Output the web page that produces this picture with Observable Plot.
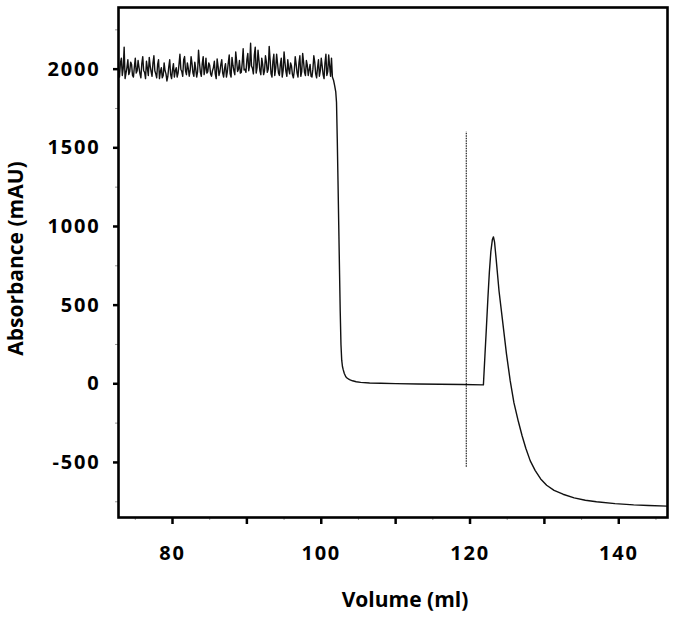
<!DOCTYPE html>
<html><head><meta charset="utf-8">
<script src="https://cdn.jsdelivr.net/npm/d3@7"></script>
<script src="https://cdn.jsdelivr.net/npm/@observablehq/plot@0.6"></script>
<style>
body{margin:0;background:#fff}
#chart svg{display:block}
#chart svg [aria-label$="tick label"] text, #chart svg g[aria-label$="tick label"]{font-size:20px !important;font-weight:bold !important;letter-spacing:1.8px;}
</style>
</head><body><div id="chart"></div>
<script>
// Volume (ml) of each sampled point
const volume = [72.75,72.875,
  73,73.125,73.25,73.375,73.5,73.625,73.75,73.875,
  74,74.125,74.25,74.375,74.5,74.625,74.75,74.875,
  75,75.125,75.25,75.375,75.5,75.625,75.75,75.875,
  76,76.125,76.25,76.375,76.5,76.625,76.75,76.875,
  77,77.125,77.25,77.375,77.5,77.625,77.75,77.875,
  78,78.125,78.25,78.375,78.5,78.625,78.75,78.875,
  79,79.125,79.25,79.375,79.5,79.625,79.75,79.875,
  80,80.125,80.25,80.375,80.5,80.625,80.75,80.875,
  81,81.125,81.25,81.375,81.5,81.625,81.75,81.875,
  82,82.125,82.25,82.375,82.5,82.625,82.75,82.875,
  83,83.125,83.25,83.375,83.5,83.625,83.75,83.875,
  84,84.125,84.25,84.375,84.5,84.625,84.75,84.875,
  85,85.125,85.25,85.375,85.5,85.625,85.75,85.875,
  86,86.125,86.25,86.375,86.5,86.625,86.75,86.875,
  87,87.125,87.25,87.375,87.5,87.625,87.75,87.875,
  88,88.125,88.25,88.375,88.5,88.625,88.75,88.875,
  89,89.125,89.25,89.375,89.5,89.625,89.75,89.875,
  90,90.125,90.25,90.375,90.5,90.625,90.75,90.875,
  91,91.125,91.25,91.375,91.5,91.625,91.75,91.875,
  92,92.125,92.25,92.375,92.5,92.625,92.75,92.875,
  93,93.125,93.25,93.375,93.5,93.625,93.75,93.875,
  94,94.125,94.25,94.375,94.5,94.625,94.75,94.875,
  95,95.125,95.25,95.375,95.5,95.625,95.75,95.875,
  96,96.125,96.25,96.375,96.5,96.625,96.75,96.875,
  97,97.125,97.25,97.375,97.5,97.625,97.75,97.875,
  98,98.125,98.25,98.375,98.5,98.625,98.75,98.875,
  99,99.125,99.25,99.375,99.5,99.625,99.75,99.875,
  100,100.125,100.25,100.375,100.5,100.625,100.75,100.875,
  101,101.125,101.25,101.375,
  101.5,101.65,101.8,101.95,102.05,102.15,102.25,102.35,102.45,102.55,102.65,102.75,102.85,102.95,103.1,103.3,103.5,103.8,104.2,104.7,105.3,106.5,108,110,113,116,119,121.8,
  122.0,122.2,122.4,122.6,122.8,123.0,123.15,123.3,123.5,123.7,123.9,124.4,124.9,125.4,125.9,126.5,127.0,127.5,128.1,128.75,129.5,130.3,131.3,132.5,134,135.5,137,139.5,142,144,146.5];

// Absorbance (mAU)
const absorbance = [1995,1950,
  2040,2070,1960,2005,2140,1940,1975,2010,
  2060,1965,1985,2045,2030,1960,1950,2015,
  2070,1975,1990,2055,2010,1970,1945,2035,
  2080,1990,1980,1940,2050,2005,1960,2075,
  2020,1985,1955,2040,2085,1990,1970,1945,
  2030,2060,1940,1985,2010,1945,1960,2040,
  1990,1970,1925,1955,2015,2060,1965,1940,
  1995,2035,1950,1990,2010,1950,1975,2030,
  2095,2000,1985,1955,2060,2080,1990,1965,
  2040,2005,1955,1990,2080,2035,1975,1955,
  2045,2000,1950,1985,2120,2040,1980,1955,
  2035,2080,1965,2000,2070,1975,1985,2040,
  2025,1970,1955,1990,2010,2050,1970,1940,
  2065,2020,1960,1985,2030,2060,1975,1950,
  2005,2035,1950,1985,2040,2090,1970,1950,
  2075,2025,1990,1965,2110,2050,1985,2000,
  2055,1975,1980,2040,2130,1995,2000,1980,
  2060,2100,1990,2025,2165,2020,2005,1970,
  2090,2140,1975,2010,2120,2055,1990,1965,
  2070,2030,1965,1990,2085,2045,1980,2000,
  2145,2060,1970,1950,2050,2095,1960,2005,
  2095,2035,1975,1960,2030,2070,1950,1990,
  2110,2040,1985,1955,2060,2000,1970,2040,
  2020,1965,1945,1990,2080,2030,1975,1950,
  2040,2085,1955,1985,2100,2045,1980,1960,
  2055,2025,1960,1995,2030,1955,1950,2000,
  2085,2045,1970,1945,2010,2060,1955,1990,
  2070,2020,1965,1940,2040,2095,1960,1985,
  2090,2020,1955,2070,
  1950,1930,1895,1855,1790,1560,1290,1010,730,460,250,150,110,90,65,45,35,26,19,13,9,5,3,1,-1,-3,-5,-7,
  175,355,540,710,840,915,934,900,800,695,590,390,190,20,-120,-240,-330,-410,-490,-550,-605,-645,-678,-702,-725,-740,-750,-762,-770,-774,-778];

const xMajorTicks = [80,90,100,110,120,130,140];
const xLabelTicks = [80,100,120,140];
const xMinorTicks = [75,85,95,105,115,125,135,145];
const yMajorTicks = [-500,0,500,1000,1500,2000];
const yMinorTicks = [-750,-250,250,750,1250,1750,2250];
const markerVolume = [119.5];
const markerRange = [-530,1600];
const xTitle = "Volume (ml)";
const yTitle = "Absorbance (mAU)";

const trace = volume.map((v,i)=>({volume:v, absorbance:absorbance[i]}));
const marker = markerVolume.map(v=>({volume:v, y1:markerRange[0], y2:markerRange[1]}));

const chart = Plot.plot({
  width:676, height:618,
  marginLeft:118, marginRight:9, marginTop:7, marginBottom:101,
  style:{fontFamily:"'Open Sans', sans-serif", fontWeight:"bold", color:"#000", background:"#fff"},
  x:{domain:[72.74,146.55]},
  y:{domain:[-850,2392]},
  marks:[
    Plot.axisX({ticks:xMinorTicks, tickSize:3, stroke:"#999", strokeWidth:1, tickFormat:()=>"", label:null}),
    Plot.axisX({ticks:xMajorTicks, tickSize:7, tickPadding:21, strokeWidth:2.5, fontSize:20, fontWeight:"bold", tickFormat:d=>xLabelTicks.includes(d)?String(d):"", label:null}),
    Plot.axisY({ticks:yMinorTicks, tickSize:3, stroke:"#999", strokeWidth:1, tickFormat:()=>"", label:null}),
    Plot.axisY({ticks:yMajorTicks, tickSize:5, tickPadding:13, strokeWidth:2.5, fontSize:20, fontWeight:"bold", tickFormat:d=>String(d), label:null}),
    Plot.ruleX(marker, {x:"volume", y1:"y1", y2:"y2", stroke:"#222", strokeWidth:1.2, strokeDasharray:"1.5,1"}),
    Plot.line(trace, {x:"volume", y:"absorbance", stroke:"#111", strokeWidth:1.4}),
    Plot.frame({stroke:"#000", strokeWidth:2.6}),
    Plot.text([xTitle], {frameAnchor:"bottom", text:d=>d, lineAnchor:"bottom", dx:12, dy:89, fontSize:21, fontWeight:"bold"}),
    Plot.text([yTitle], {frameAnchor:"left", text:d=>d, textAnchor:"middle", rotate:-90, dx:-102, dy:-4, fontSize:21, fontWeight:"bold", letterSpacing:"0.6px"})
  ]
});
document.getElementById("chart").append(chart);
</script>
</body></html>
